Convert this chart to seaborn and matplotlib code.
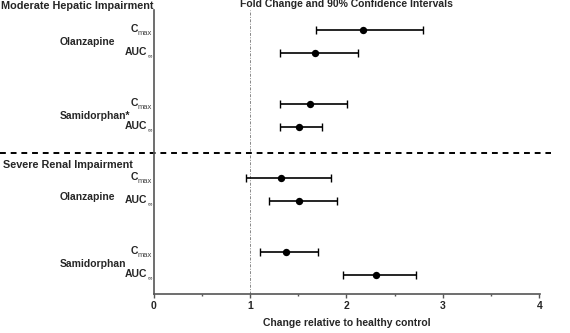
import matplotlib
matplotlib.use("Agg")
import matplotlib.pyplot as plt
import seaborn as sns
import pandas as pd
from matplotlib.ticker import MultipleLocator

# ---- data ----
conditions = ["Moderate Hepatic Impairment", "Moderate Hepatic Impairment",
              "Moderate Hepatic Impairment", "Moderate Hepatic Impairment",
              "Severe Renal Impairment", "Severe Renal Impairment",
              "Severe Renal Impairment", "Severe Renal Impairment"]
drugs = ["Olanzapine", "Olanzapine", "Samidorphan*", "Samidorphan*",
         "Olanzapine", "Olanzapine", "Samidorphan", "Samidorphan"]
params = ["Cmax", "AUC", "Cmax", "AUC", "Cmax", "AUC", "Cmax", "AUC"]
fold = [2.17, 1.67, 1.62, 1.51, 1.32, 1.51, 1.37, 2.31]
ci_low = [1.68, 1.31, 1.31, 1.31, 0.955, 1.20, 1.10, 1.96]
ci_high = [2.79, 2.12, 2.01, 1.75, 1.84, 1.90, 1.71, 2.72]
xticks = [0, 1, 2, 3, 4]

# ---- layout of rows ----
pair_step = 3.22
ypos = []
for i in range(len(fold)):
    ypos.append((i // 2) * pair_step + (i % 2))
df = pd.DataFrame({"cond": conditions, "drug": drugs, "param": params,
                   "fold": fold, "lo": ci_low, "hi": ci_high, "y": ypos})

sns.set_theme(style="white")
plt.rcParams["font.family"] = ["Liberation Sans", "DejaVu Sans"]

fig = plt.figure(figsize=(5.70, 3.33), dpi=100)
ax = fig.add_axes([153.5 / 570, 1 - 294 / 333, (539.3 - 153.5) / 570 * (4.01 / 4), (294 - 10) / 333])

# reference line
ax.axvline(1, color="#888888", lw=0.7, ls=(0, (3, 1.5, 1, 1.5)), zorder=0)

# error bars
ax.errorbar(df["fold"], df["y"],
            xerr=[df["fold"] - df["lo"], df["hi"] - df["fold"]],
            fmt="none", ecolor="black", elinewidth=1.2, capsize=3, capthick=1.0, zorder=2)
sns.scatterplot(data=df, x="fold", y="y", color="black", s=28, edgecolor="black",
                linewidth=0, ax=ax, zorder=3, legend=False)

ax.set_xlim(0, 4.01)
ax.set_ylim(11.47, -0.88)
ax.set_yticks([])
ax.set_ylabel("")
ax.xaxis.set_major_locator(MultipleLocator(1))
ax.xaxis.set_minor_locator(MultipleLocator(0.5))
ax.set_xticks(xticks)
ax.set_xticklabels([str(t) for t in xticks], fontweight="bold", fontsize=7.5)
ax.tick_params(axis="x", which="major", direction="out", length=3, width=1, color="#555555", pad=2, bottom=True)
ax.tick_params(axis="x", which="minor", direction="out", length=1.5, width=1, color="#555555", bottom=True)
for s in ["top", "right"]:
    ax.spines[s].set_visible(False)
for s in ["left", "bottom"]:
    ax.spines[s].set_color("#555555")
    ax.spines[s].set_linewidth(1.2)

ax.set_xlabel("Change relative to healthy control", fontweight="bold", fontsize=7.5, labelpad=5)
ax.set_title("Fold Change and 90% Confidence Intervals", fontweight="bold", fontsize=7.5, pad=2)

# parameter labels
for _, r in df.iterrows():
    if r["param"] == "Cmax":
        ax.annotate("C", xy=(0, r["y"]), xycoords=("axes fraction", "data"),
                    xytext=(-11.3, 1), textcoords="offset points", ha="right", va="center",
                    fontweight="bold", fontsize=7.5)
        ax.annotate("max", xy=(0, r["y"]), xycoords=("axes fraction", "data"),
                    xytext=(-1, -2), textcoords="offset points", ha="right", va="center",
                    fontsize=5.5, color="#444444")
    else:
        ax.annotate("AUC", xy=(0, r["y"]), xycoords=("axes fraction", "data"),
                    xytext=(-4.8, 1), textcoords="offset points", ha="right", va="center",
                    fontweight="bold", fontsize=7.5)
        ax.annotate("\u221e", xy=(0, r["y"]), xycoords=("axes fraction", "data"),
                    xytext=(-1, -2.5), textcoords="offset points", ha="right", va="center",
                    fontsize=4.5, color="#444444")

# drug labels
for i in range(0, len(fold), 2):
    yc = (ypos[i] + ypos[i + 1]) / 2
    if i == 4:
        yc += 0.3
    ax.annotate(drugs[i], xy=(60 / 570, yc), xycoords=("figure fraction", "data"),
                ha="left", va="center", fontweight="bold", fontsize=7.5)

# condition headers and separator
fig.text(1 / 570, 1 - 6 / 333, conditions[0], ha="left", va="center", fontweight="bold", fontsize=7.8)
fig.text(3 / 570, 1 - 165 / 333, conditions[4], ha="left", va="center", fontweight="bold", fontsize=7.8)
sep_y = (ypos[3] + ypos[4]) / 2
ax.plot([-153.5 / 96.5, (551 - 153.5) / 96.5], [sep_y, sep_y], color="black", lw=1.4,
        ls=(0, (3, 2.5)), clip_on=False, transform=ax.transData)

fig.savefig("out.png", dpi=100)
